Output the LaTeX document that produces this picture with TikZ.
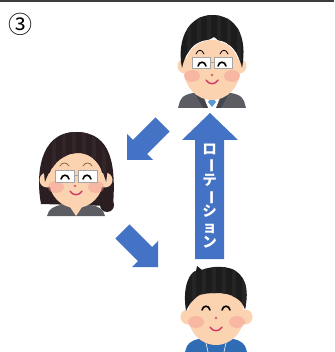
\documentclass[tikz,border=0pt]{standalone}
\usepackage{fontspec}
\usepackage{graphicx}
\newfontfamily\jp{Noto Sans CJK JP}

\definecolor{arrowblue}{HTML}{4472C4}
\definecolor{skinc}{HTML}{FBD3B1}
\definecolor{cheekc}{HTML}{F79C95}
\definecolor{hairc}{HTML}{1C1C1C}
\definecolor{hairstripe}{HTML}{252525}
\definecolor{hairw}{HTML}{2A1E21}
\definecolor{hairwstripe}{HTML}{33262A}
\definecolor{mouthc}{HTML}{CC3A66}
\definecolor{nosec}{HTML}{D65C78}
\definecolor{suitc}{HTML}{5C5D63}
\definecolor{suitdark}{HTML}{45464B}
\definecolor{tiec}{HTML}{5B9BD5}
\definecolor{uniformc}{HTML}{2F6CB3}
\definecolor{framec}{HTML}{A5A5A5}
\definecolor{toplinec}{HTML}{3C3C3C}
\definecolor{browc}{HTML}{8B6A4B}
\definecolor{eyewc}{HTML}{1D3738}

\tikzset{
  blockarrow/.style={fill=arrowblue},
  skin/.style={fill=skinc},
  cheek/.style={fill=cheekc, fill opacity=0.5},
  eyeline/.style={draw=black, line width=1.6pt, line cap=round},
  browline/.style={draw=black, line width=0.8pt, line cap=round},
  mouthline/.style={draw=mouthc, line width=1.4pt, line cap=round},
  lens/.style={draw=framec, line width=0.9pt, fill=white},
  eyearc/.pic={\path[eyeline,pic actions] (-4,2) .. controls (-3,-3) and (3,-3) .. (4,2);},
  rotlabel/.style={text=white, font=\jp\bfseries\fontsize{14.5}{15.6}\selectfont,
    align=center, inner sep=0pt},
}

\begin{document}
\begin{tikzpicture}[x=1pt,y=-1pt]
\useasboundingbox (0,0) rectangle (334,352);
\fill[white] (0,0) rectangle (334,352);

% frame rule along the top edge
\draw[toplinec, line width=2pt] (0,1) -- (334,1);

% step number
\node[font=\jp\fontsize{24}{24}\selectfont, inner sep=0pt] (num) at (21,24) {③};

% ---------- top: man in a suit with glasses ----------
\begin{scope}[shift={(212,68)}]
  \begin{scope}
    \clip (-40,-60) rectangle (40,40);
    \fill[suitc] (-34,40) -- (-32,33) .. controls (-30,27) and (-22,25) .. (-12,24)
      -- (12,24) .. controls (22,25) and (30,27) .. (32,33) -- (34,40) -- cycle;
    \fill[white] (-10,24) -- (10,24) -- (4,40) -- (-4,40) -- cycle;
    \fill[suitdark] (-12,24) -- (-4,40) -- (-9,40) -- (-16,27) -- cycle;
    \fill[suitdark] (12,24) -- (4,40) -- (9,40) -- (16,27) -- cycle;
    \fill[tiec] (0,29) -- (4,34) -- (0,39) -- (-4,34) -- cycle;
  \end{scope}
  \fill[skin] (-27,-2) circle (7.5);
  \fill[skin] (27,-2) circle (7.5);
  \fill[skin] (0,2) ellipse (28 and 30);
  \fill[cheek] (-20,8) ellipse (8 and 6);
  \fill[cheek] (20,8) ellipse (8 and 6);
  \def\tophair{(-30,0) .. controls (-36,-30) and (-22,-53) .. (0,-53)
    .. controls (24,-53) and (36,-32) .. (30,0)
    .. controls (27,-16) and (18,-26) .. (6,-28) -- (2,-31)
    .. controls (-2,-28) and (-6,-28) .. (-10,-27)
    .. controls (-20,-24) and (-27,-14) .. (-30,0) -- cycle}
  \fill[hairc] \tophair;
  \begin{scope}
    \clip \tophair;
    \foreach \sx in {-25,-15,-5,5,15,25} \fill[hairstripe] (\sx,-60) rectangle ++(4,60);
  \end{scope}
  \draw[browline] (-16,-14) .. controls (-14,-19) and (-10,-19) .. (-8,-14);
  \draw[browline] (8,-14) .. controls (10,-19) and (14,-19) .. (16,-14);
  \draw[lens] (-20,-11) rectangle (-2,0);
  \draw[lens] (2,-11) rectangle (20,0);
  \draw[framec, line width=0.9pt] (-2,-6) -- (2,-6);
  \pic at (-10,-4) {eyearc};
  \pic at (10,-4) {eyearc};
  \fill[nosec] (0,7) circle (1.3);
  \draw[mouthline] (-6,12) .. controls (-3,17) and (3,17) .. (6,12);
\end{scope}

% ---------- left: woman with glasses ----------
\begin{scope}[shift={(76,178)}]
  \fill[hairw] (-35,26) .. controls (-40,0) and (-38,-46) .. (0,-46)
    .. controls (36,-46) and (40,-12) .. (37,28) -- cycle;
  \fill[hairw] (31,27) circle (7);
  \begin{scope}
    \clip (-40,-60) rectangle (40,38);
    \fill[suitc] (-29,38) -- (-27,33) .. controls (-24,29) and (-18,27) .. (-10,26)
      -- (10,26) .. controls (18,27) and (24,29) .. (27,33) -- (29,38) -- cycle;
    \fill[skin] (-8,26) -- (8,26) -- (0,38) -- cycle;
  \end{scope}
  \fill[skin] (-29,2) circle (7.5);
  \fill[skin] (29,2) circle (7.5);
  \fill[skin] (0,2) ellipse (27 and 28);
  \fill[cheek] (-20,9) ellipse (8 and 6);
  \fill[cheek] (20,9) ellipse (8 and 6);
  \def\womanbangs{(-31,4) .. controls (-36,-28) and (-20,-46) .. (0,-46)
    .. controls (22,-46) and (36,-28) .. (30,4)
    .. controls (26,-14) and (16,-24) .. (4,-25)
    .. controls (-10,-26) and (-24,-16) .. (-31,4) -- cycle}
  \fill[hairw] \womanbangs;
  \begin{scope}
    \clip \womanbangs;
    \foreach \sx in {-24,-14,-4,6,16,26} \fill[hairwstripe] (\sx,-60) rectangle ++(4,60);
  \end{scope}
  \draw[browline, draw=browc] (-16,-12) .. controls (-14,-16) and (-9,-16) .. (-7,-12);
  \draw[browline, draw=browc] (7,-12) .. controls (9,-16) and (14,-16) .. (16,-12);
  \draw[lens] (-21,-8) rectangle (-2,4);
  \draw[lens] (2,-8) rectangle (21,4);
  \draw[framec, line width=0.9pt] (-2,-3) -- (2,-3);
  \pic[draw=eyewc] at (-11,-1) {eyearc};
  \pic[draw=eyewc] at (11,-1) {eyearc};
  \fill[nosec] (-1,8) circle (1.3);
  \draw[mouthline] (-6,13) .. controls (-3,18) and (3,18) .. (6,13);
\end{scope}

% ---------- bottom: man in a blue work uniform ----------
\begin{scope}[shift={(216,312)}]
  \begin{scope}
    \clip (-40,-60) rectangle (40,40);
    \fill[uniformc] (-31,40) -- (-29,34) .. controls (-26,29) and (-20,27) .. (-12,26)
      -- (12,26) .. controls (20,27) and (26,29) .. (29,34) -- (31,40) -- cycle;
    \draw[white!85!uniformc, line width=0.7pt] (-11,26) -- (-8,40);
    \draw[white!85!uniformc, line width=0.7pt] (11,26) -- (8,40);
  \end{scope}
  \fill[skin] (-28,5) circle (7.5);
  \fill[skin] (29,5) circle (7.5);
  \fill[skin] (0,3) ellipse (28 and 30);
  \fill[cheek] (-20,10) ellipse (8 and 6);
  \fill[cheek] (21,10) ellipse (8 and 6);
  \def\workerhair{(-30,-1) .. controls (-34,-26) and (-26,-40) .. (-20,-41)
    -- (-19,-46) -- (-14,-42) .. controls (-5,-46) and (8,-46) .. (16,-43)
    .. controls (28,-38) and (34,-24) .. (29,-3)
    .. controls (26,-12) and (16,-19) .. (2,-19)
    .. controls (-8,-19) and (-16,-18) .. (-18,-16)
    .. controls (-24,-12) and (-28,-6) .. (-30,-1) -- cycle}
  \fill[hairc] \workerhair;
  \begin{scope}
    \clip \workerhair;
    \foreach \sx in {-24,-14,-4,6,16,26} \fill[hairstripe] (\sx,-60) rectangle ++(4,60);
  \end{scope}
  \pic at (-10,-4) {eyearc};
  \pic at (10,-4) {eyearc};
  \fill[nosec] (0,6) circle (1.3);
  \draw[mouthline] (-6,15) .. controls (-3,20) and (3,20) .. (6,15);
\end{scope}

% ---------- arrows ----------
% upward rotation arrow with its label
\fill[blockarrow] (210,113) -- (238,140) -- (224,140) -- (224,259)
  -- (195,259) -- (195,140) -- (182,140) -- cycle;
\node[rotlabel] (rot) at (209.5,196)
  {ロ\\\rotatebox[origin=c]{-90}{ー}\\テ\\\rotatebox[origin=c]{-90}{ー}\\シ\\ョ\\ン};

% top to left
\fill[blockarrow] (127,160) -- (127,134) -- (132.9,139.9) -- (155.5,117.3)
  -- (169.7,131.5) -- (147.1,154.1) -- (153,160) -- cycle;
% left to bottom
\fill[blockarrow] (158,267) -- (158,241) -- (152.1,246.9) -- (129.5,224.3)
  -- (115.3,238.5) -- (137.9,261.1) -- (132,267) -- cycle;
\end{tikzpicture}
\end{document}
